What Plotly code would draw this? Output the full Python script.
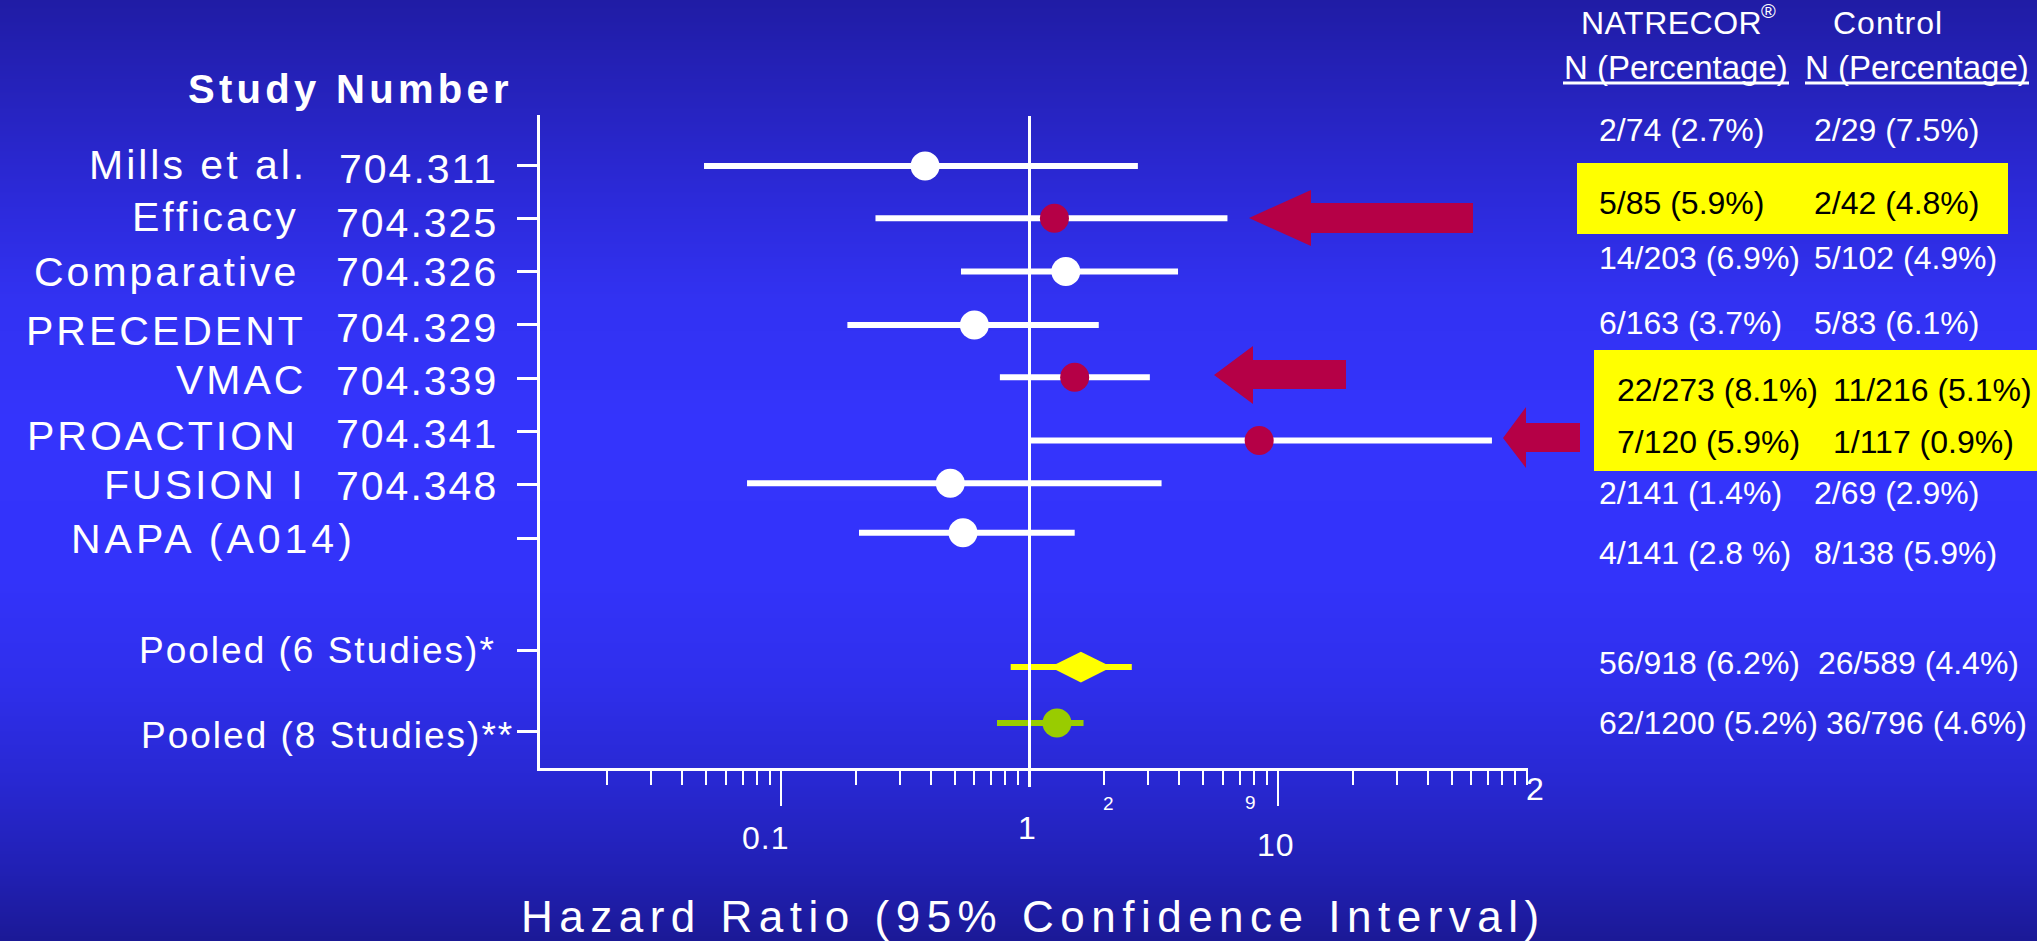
import base64
import struct
import zlib
import plotly.graph_objects as go

# ---------------- data ----------------
studies = ["Mills et al.", "Efficacy", "Comparative", "PRECEDENT", "VMAC",
           "PROACTION", "FUSION I", "NAPA (A014)"]
study_ids = ["704.311", "704.325", "704.326", "704.329", "704.339",
             "704.341", "704.348", ""]
hazard_ratio = [0.38, 1.26, 1.40, 0.60, 1.52, 8.4, 0.48, 0.54]
ci_low = [0.049, 0.24, 0.53, 0.185, 0.76, 1.0, 0.073, 0.206]
ci_high = [2.73, 6.26, 3.96, 1.90, 3.05, 72.6, 3.40, 1.52]
highlighted = [False, True, False, False, True, True, False, False]

pooled_names = ["Pooled (6 Studies)*", "Pooled (8 Studies)**"]
pooled_hr = [1.61, 1.29]
pooled_low = [0.84, 0.74]
pooled_high = [2.58, 1.65]

natrecor_counts = ["2/74 (2.7%)", "5/85 (5.9%)", "14/203 (6.9%)", "6/163 (3.7%)",
                   "22/273 (8.1%)", "7/120 (5.9%)", "2/141 (1.4%)", "4/141 (2.8 %)",
                   "56/918 (6.2%)", "62/1200 (5.2%)"]
control_counts = ["2/29 (7.5%)", "2/42 (4.8%)", "5/102 (4.9%)", "5/83 (6.1%)",
                  "11/216 (5.1%)", "1/117 (0.9%)", "2/69 (2.9%)", "8/138 (5.9%)",
                  "26/589 (4.4%)", "36/796 (4.6%)"]

x_tick_labels = ["0.1", "1", "10"]
x_tick_values = [0.1, 1, 10]

# ---------------- layout constants ----------------
W, H = 2037, 941
L, R, T, B = 540, 1528, 115, 768
X_ONE, DECADE = 1029.5, 248.5
ROW0, ROW_STEP = 165, 53.3

FONT = "Liberation Sans, Arial, Helvetica, sans-serif"
CRIMSON = "#B50046"
YELLOW = "#FFFF00"
GREEN = "#99CC00"

tick_rows = [1, 2, 3, 4, 5, 6, 7, 8, 10.1, 11.62]
point_rows = [1.02, 2, 3, 4, 4.98, 6.17, 6.97, 7.9, 10.42, 11.47]

x_range = [(L - X_ONE) / DECADE, (R - X_ONE) / DECADE]
y_range = [1 + (B - ROW0) / ROW_STEP, 1 + (T - ROW0) / ROW_STEP]


def px(x):
    return (x - L) / (R - L)


def py(y):
    return (B - y) / (B - T)


def spaced(text, ls, bold=False):
    style = []
    if ls:
        style.append("letter-spacing:%spx" % ls)
    if bold:
        style.append("font-weight:bold")
    if style:
        return '<span style="%s">%s</span>' % (";".join(style), text)
    return text


annotations = []


def ann(text, x, y, size, anchor="left", color="white", ls=0, bold=False):
    annotations.append(dict(
        text=spaced(text, ls, bold), x=px(x), y=py(y), xref="paper", yref="paper",
        xanchor=anchor, yanchor="middle", showarrow=False,
        font=dict(family=FONT, size=size, color=color), borderpad=0,
    ))


# ---------------- background gradient (PNG data URI) ----------------
stops = [(0, (32, 28, 165)), (100, (38, 35, 190)), (200, (44, 42, 218)),
         (300, (50, 50, 242)), (420, (52, 52, 252)), (580, (51, 51, 250)),
         (680, (47, 47, 236)), (780, (40, 40, 210)), (870, (33, 32, 180)),
         (941, (27, 25, 150))]


def grad(y):
    for (y0, c0), (y1, c1) in zip(stops[:-1], stops[1:]):
        if y0 <= y <= y1:
            t = (y - y0) / (y1 - y0)
            return tuple(int(round(a + (b - a) * t)) for a, b in zip(c0, c1))
    return stops[-1][1]


def make_png(width, height):
    raw = b"".join(b"\x00" + bytes(grad(y)) * width for y in range(height))

    def chunk(tag, data):
        c = struct.pack(">I", len(data)) + tag + data
        return c + struct.pack(">I", zlib.crc32(tag + data) & 0xFFFFFFFF)
    return (b"\x89PNG\r\n\x1a\n"
            + chunk(b"IHDR", struct.pack(">IIBBBBB", width, height, 8, 2, 0, 0, 0))
            + chunk(b"IDAT", zlib.compress(raw, 9))
            + chunk(b"IEND", b""))


bg_uri = "data:image/png;base64," + base64.b64encode(make_png(4, H)).decode()

# ---------------- figure ----------------
fig = go.Figure()

ci_x, ci_y = [], []
for lo, hi, r in zip(ci_low, ci_high, point_rows[:8]):
    ci_x += [lo, hi, None]
    ci_y += [r, r, None]
fig.add_trace(go.Scatter(x=ci_x, y=ci_y, mode="lines",
                         line=dict(color="white", width=6), hoverinfo="skip"))
fig.add_trace(go.Scatter(
    x=hazard_ratio, y=point_rows[:8], mode="markers", text=studies,
    marker=dict(size=29, color=[CRIMSON if h else "white" for h in highlighted],
                line=dict(width=0)),
    hoverinfo="text+x"))

pooled_colors = [YELLOW, GREEN]
pooled_symbols = ["diamond-wide", "circle"]
pooled_sizes = [44, 29]
for i in range(2):
    r = point_rows[8 + i]
    fig.add_trace(go.Scatter(x=[pooled_low[i], pooled_high[i]], y=[r, r], mode="lines",
                             line=dict(color=pooled_colors[i], width=6), hoverinfo="skip"))
    fig.add_trace(go.Scatter(x=[pooled_hr[i]], y=[r], mode="markers", text=[pooled_names[i]],
                             marker=dict(size=pooled_sizes[i], color=pooled_colors[i],
                                         symbol=pooled_symbols[i], line=dict(width=0)),
                             hoverinfo="text+x"))

minor_vals = [m * 10 ** e for e in (-2, -1, 0, 1) for m in range(2, 10)] + [100]

fig.update_xaxes(
    type="log", range=x_range, showgrid=False, zeroline=False,
    showline=True, linecolor="white", linewidth=3,
    tickmode="array", tickvals=[0.1, 10], ticks="outside", ticklen=35,
    tickwidth=2, tickcolor="white", showticklabels=False,
    minor=dict(tickmode="array", tickvals=minor_vals, ticks="outside",
               ticklen=14, tickwidth=2, tickcolor="white", showgrid=False),
    fixedrange=True,
)
fig.update_yaxes(
    range=y_range, showgrid=False, zeroline=False,
    showline=True, linecolor="white", linewidth=3,
    tickmode="array", tickvals=tick_rows, ticks="outside", ticklen=20,
    tickwidth=3, tickcolor="white", showticklabels=False, fixedrange=True,
)

shapes = []
# yellow highlight boxes (right table)
shapes.append(dict(type="rect", xref="paper", yref="paper", x0=px(1577), x1=px(2008),
                   y0=py(234), y1=py(163), fillcolor=YELLOW, line=dict(width=0), layer="below"))
shapes.append(dict(type="rect", xref="paper", yref="paper", x0=px(1594), x1=px(2040),
                   y0=py(471), y1=py(350), fillcolor=YELLOW, line=dict(width=0), layer="below"))
# reference line at HR = 1
shapes.append(dict(type="line", xref="x", yref="paper", x0=1, x1=1, y0=py(787), y1=py(116),
                   line=dict(color="white", width=3), layer="above"))
# header underlines
for x0, x1 in [(1563, 1789), (1805, 2029)]:
    shapes.append(dict(type="line", xref="paper", yref="paper", x0=px(x0), x1=px(x1),
                       y0=py(83), y1=py(83), line=dict(color="white", width=3)))


def arrow(tip_x, tip_y, base_x, head_top, head_bot, body_right, body_top, body_bot):
    pts = [(tip_x, tip_y), (base_x, head_top), (base_x, body_top), (body_right, body_top),
           (body_right, body_bot), (base_x, body_bot), (base_x, head_bot)]
    path = "M " + " L ".join("%.5f,%.5f" % (px(a), py(b)) for a, b in pts) + " Z"
    return dict(type="path", xref="paper", yref="paper", path=path,
                fillcolor=CRIMSON, line=dict(width=0), layer="above")


shapes.append(arrow(1249, 218, 1311, 190, 246, 1473, 203, 233))
shapes.append(arrow(1214, 375, 1253, 346, 404, 1346, 360, 389))
shapes.append(arrow(1503, 438, 1526, 407, 468, 1580, 423, 452))

# ---------------- text ----------------
ann("Study Number", 350, 89, 40, "center", ls=4.3, bold=True)

name_right = [305, 297, 297, 304, 304, 296, 304]
name_y = [165, 217, 272, 331, 380, 436, 485]
for name, x, y in zip(studies[:7], name_right, name_y):
    ann(name, x + 3, y, 41, "right", ls=3)
ann(studies[7], 70, 539, 41, "left", ls=4)

id_y = [169, 223, 272, 328, 381, 434, 486]
for sid, y in zip(study_ids[:7], id_y):
    ann(sid, 499, y, 41, "right", ls=2)

for name, x, y in zip(pooled_names, [497, 515], [650, 735]):
    ann(name, x, y, 37, "right", ls=2)

# x axis labels
for lab, x, y in zip(x_tick_labels, [765, 1027, 1276], [838, 828, 845]):
    ann(lab, x, y, 32, "center", ls=1)
ann("2", 1108, 803, 19, "center")
ann("9", 1250, 802, 19, "center")
ann("2", 1535, 789, 32, "center")

ann("Hazard Ratio (95% Confidence Interval)", 1033, 916, 44, "center", ls=6.5)

# right table
ann("NATRECOR", 1671, 23, 32, "center", ls=0.5)
ann("®", 1768, 11, 20, "center")
ann("Control", 1888, 23, 32, "center", ls=1)
ann("N (Percentage)", 1676, 67, 33, "center")
ann("N (Percentage)", 1917, 67, 33, "center")

col1_x = [1598, 1598, 1598, 1598, 1616, 1616, 1598, 1598, 1598, 1598]
col2_x = [1813, 1813, 1813, 1813, 1832, 1832, 1813, 1813, 1817, 1825]
row_y = [130, 203, 258, 323, 390, 442, 493, 553, 663, 723]
row_dark = highlighted + [False, False]
for a, b, x1, x2, y, dark in zip(natrecor_counts, control_counts, col1_x, col2_x, row_y, row_dark):
    c = "black" if dark else "white"
    ann(a, x1, y, 32, "left", color=c)
    ann(b, x2, y, 32, "left", color=c)

fig.update_layout(
    width=W, height=H, autosize=False,
    margin=dict(l=L, r=W - R, t=T, b=H - B, pad=0),
    paper_bgcolor="#3232F0", plot_bgcolor="rgba(0,0,0,0)",
    showlegend=False, hovermode="closest",
    shapes=shapes, annotations=annotations,
    images=[dict(source=bg_uri, xref="paper", yref="paper", x=px(0), y=py(0),
                 sizex=px(W) - px(0), sizey=py(0) - py(H), xanchor="left", yanchor="top",
                 sizing="stretch", layer="below")],
)

fig.write_html("out.html", config={"displayModeBar": False})
